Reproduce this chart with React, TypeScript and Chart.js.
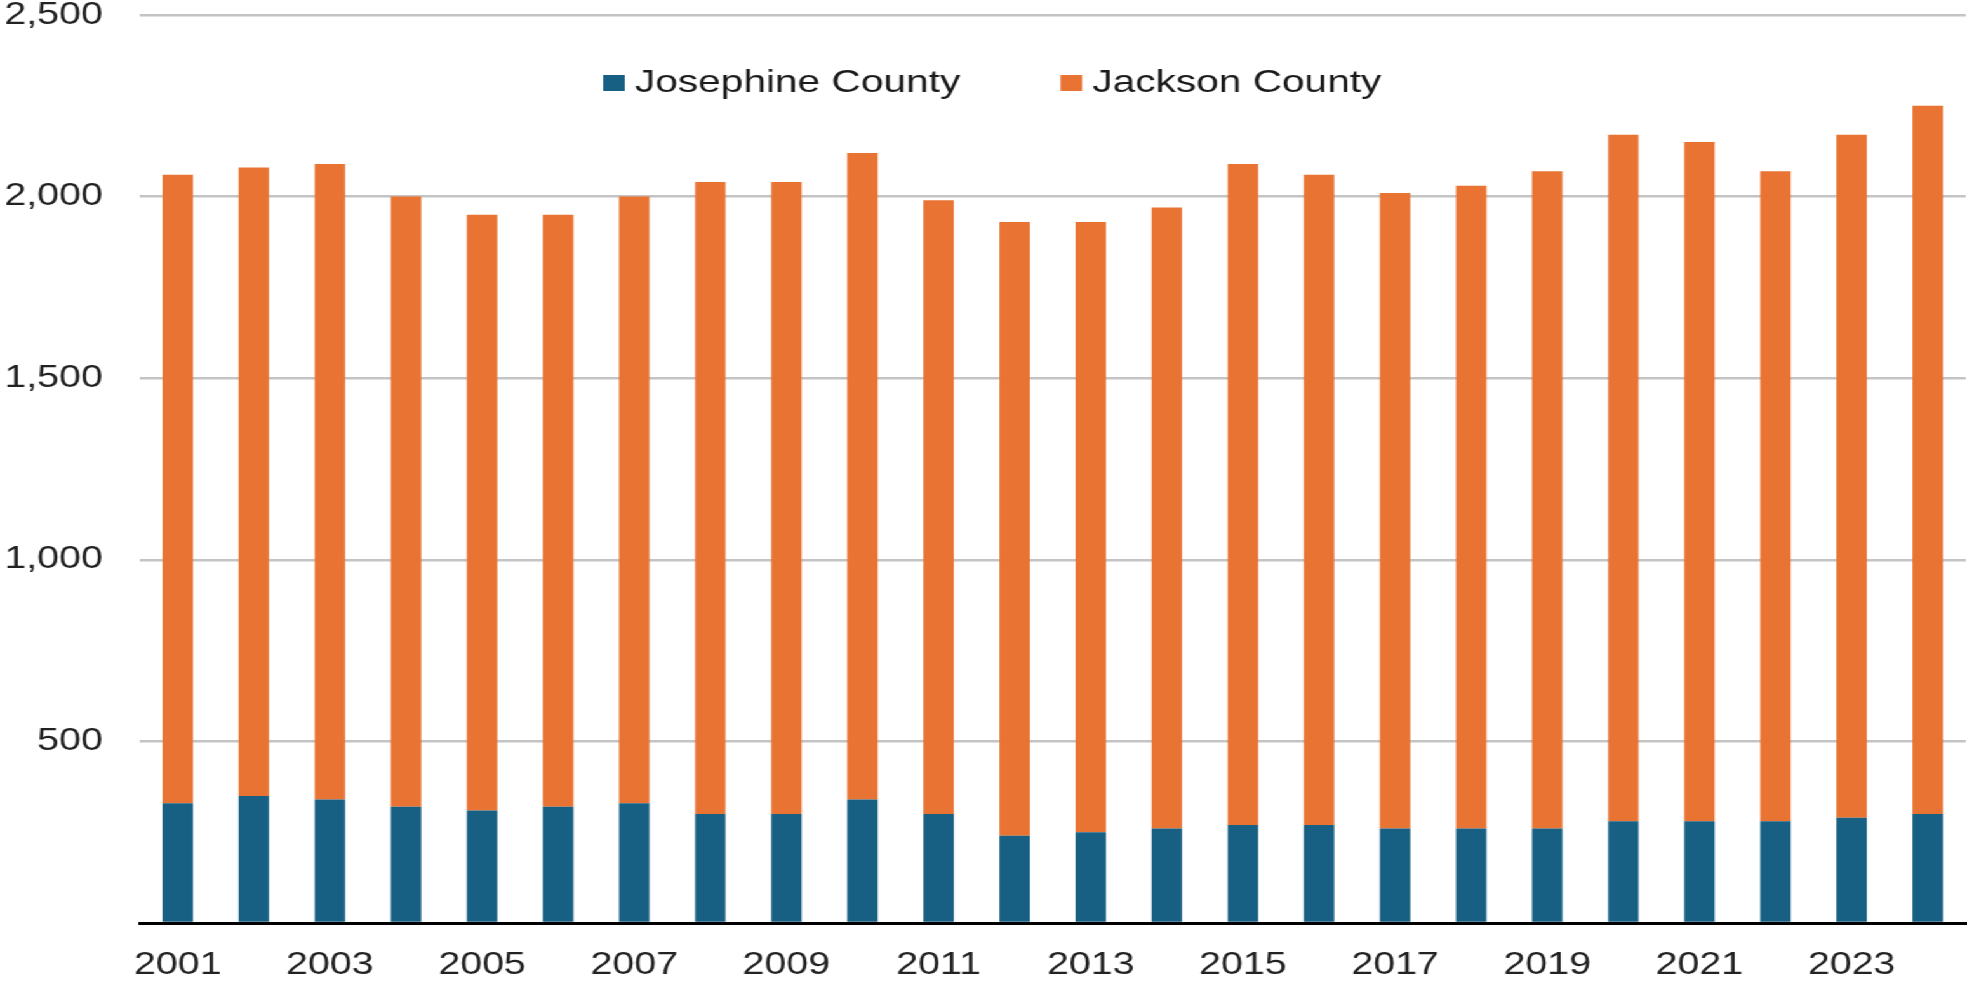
import React, { useEffect, useRef } from 'react';
import { Chart, registerables } from 'chart.js';

Chart.register(...registerables);

const years = ['2001', '2002', '2003', '2004', '2005', '2006', '2007', '2008', '2009', '2010', '2011', '2012', '2013', '2014', '2015', '2016', '2017', '2018', '2019', '2020', '2021', '2022', '2023', '2024'];
const josephine = [330, 350, 340, 320, 310, 320, 330, 300, 300, 340, 300, 240, 250, 260, 270, 270, 260, 260, 260, 280, 280, 280, 290, 300];
const jackson = [1730, 1730, 1750, 1680, 1640, 1630, 1670, 1740, 1740, 1780, 1690, 1690, 1680, 1710, 1820, 1790, 1750, 1770, 1810, 1890, 1870, 1790, 1880, 1950];
const seriesNames = ['Josephine County', 'Jackson County'];
const seriesColors = ['#186083', '#E87333'];
const yMax = 2500;
const yStep = 500;

const W = 1549;
const H = 983;
const FULL_W = 1967;
const FONT = "'Liberation Sans', Arial, Helvetica, sans-serif";

const legendPlugin = {
  id: 'topLegend',
  afterDraw(chart: any) {
    const ctx = chart.ctx;
    ctx.save();
    ctx.font = `32px ${FONT}`;
    ctx.textBaseline = 'alphabetic';
    ctx.textAlign = 'left';
    let x = 475;
    chart.data.datasets.forEach((ds: any) => {
      ctx.fillStyle = ds.backgroundColor;
      ctx.fillRect(x, 75, 17, 16);
      ctx.fillStyle = '#1a1a1a';
      ctx.fillText(ds.label, x + 25, 92);
      x += 25 + ctx.measureText(ds.label).width + 79;
    });
    ctx.restore();
  },
};

export default function App() {
  const ref = useRef<HTMLCanvasElement | null>(null);

  useEffect(() => {
    if (!ref.current) return;
    const chart = new Chart(ref.current, {
      type: 'bar',
      data: {
        labels: years,
        datasets: [
          {
            label: seriesNames[0],
            data: josephine,
            backgroundColor: seriesColors[0],
            borderWidth: 0,
            barPercentage: 0.4,
            categoryPercentage: 1,
          },
          {
            label: seriesNames[1],
            data: jackson,
            backgroundColor: seriesColors[1],
            borderWidth: 0,
            barPercentage: 0.4,
            categoryPercentage: 1,
          },
        ],
      },
      options: {
        responsive: false,
        animation: false,
        devicePixelRatio: 1,
        layout: { padding: { top: 15, right: 1, left: 0, bottom: 0 } },
        plugins: {
          legend: { display: false },
          tooltip: { enabled: false },
        },
        scales: {
          x: {
            stacked: true,
            z: 1,
            grid: { display: false, drawTicks: false },
            border: { display: true, color: '#000000', width: 3 },
            ticks: {
              autoSkip: false,
              maxRotation: 0,
              minRotation: 0,
              padding: 24,
              color: '#222222',
              font: { family: FONT, size: 31 },
              callback: (_v: any, i: number) => (i % 2 === 0 ? years[i] : ''),
            },
            afterFit: (scale: any) => {
              scale.height = 60;
              scale.paddingLeft = 0;
              scale.paddingRight = 0;
            },
          },
          y: {
            stacked: true,
            min: 0,
            max: yMax,
            grid: { color: '#c4c4c4', lineWidth: 2.5, drawTicks: false },
            border: { display: false },
            ticks: {
              stepSize: yStep,
              padding: 29,
              color: '#222222',
              font: { family: FONT, size: 31 },
              callback: (v: any) => (Number(v) === 0 ? '' : Number(v).toLocaleString('en-US')),
            },
            afterFit: (scale: any) => {
              scale.width = 110;
              scale.paddingTop = 0;
              scale.paddingBottom = 0;
            },
          },
        },
      },
      plugins: [legendPlugin],
    });
    return () => chart.destroy();
  }, []);

  return (
    <div
      style={{
        position: 'fixed',
        left: 0,
        top: 0,
        width: W,
        height: H,
        transform: `scaleX(${FULL_W / W})`,
        transformOrigin: '0 0',
        background: '#ffffff',
      }}
    >
      <canvas ref={ref} width={W} height={H} style={{ display: 'block' }} />
    </div>
  );
}
